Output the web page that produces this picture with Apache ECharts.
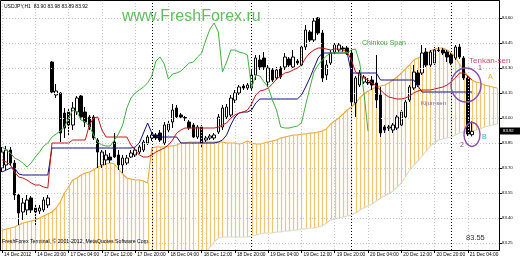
<!DOCTYPE html>
<html><head><meta charset="utf-8">
<script src="https://cdn.jsdelivr.net/npm/echarts@6/dist/echarts.min.js"></script>
<style>html,body{margin:0;padding:0;background:#fff}#c{width:520px;height:260px}</style>
</head><body><div id="c"></div>
<script>
// ---- axis texts ----
const tickLabels = ["14 Dec 2012","14 Dec 20:00","17 Dec 04:00","17 Dec 12:00","17 Dec 20:00","18 Dec 04:00","18 Dec 12:00","18 Dec 20:00","19 Dec 04:00","19 Dec 12:00","19 Dec 20:00","20 Dec 04:00","20 Dec 12:00","20 Dec 20:00","21 Dec 04:00"];
const priceTicks = [83.25,83.40,83.55,83.70,83.85,84.00,84.15,84.30,84.45,84.60];
const sessionDays = [["14 Dec",12,23],["17 Dec",0,23],["18 Dec",0,23],["19 Dec",0,23],["20 Dec",0,23],["21 Dec",0,11]];
const daySeparators = ["18 Dec 00:00","19 Dec 00:00","20 Dec 00:00","21 Dec 00:00"];
const lastClose = 83.92;

// ---- H1 candles [open, close, low, high] ----
const candles = [
[83.700,83.796,83.676,83.826],[83.718,83.808,83.688,83.832],[83.808,83.730,83.712,83.826],[83.730,83.538,83.508,83.748],
[83.538,83.430,83.358,83.550],[83.436,83.490,83.388,83.520],[83.448,83.508,83.418,83.538],[83.520,83.448,83.430,83.532],
[83.460,83.436,83.358,83.478],[83.442,83.460,83.424,83.478],[83.448,83.508,83.436,83.526],[83.478,83.520,83.460,83.538],
[84.336,84.156,84.150,84.342],[84.138,84.162,84.120,84.204],[84.150,83.910,83.856,84.156],[84.030,83.940,83.880,84.060],
[84.036,83.958,83.898,84.060],[83.958,84.060,83.928,84.096],[84.036,84.120,84.018,84.132],[84.132,84.006,83.988,84.138],
[84.036,83.976,83.946,84.066],[84.006,83.946,83.928,84.018],[84.006,83.880,83.868,84.018],[83.868,83.796,83.700,83.880],
[83.718,83.796,83.700,83.808],[83.748,83.778,83.718,83.808],[83.766,83.748,83.730,83.790],[83.856,83.766,83.760,83.910],
[83.778,83.718,83.688,83.808],[83.718,83.760,83.670,83.778],[83.730,83.760,83.718,83.778],[83.766,83.790,83.760,83.808],
[83.778,83.808,83.766,83.820],[83.796,83.826,83.784,83.838],[83.808,83.856,83.796,83.868],[83.850,83.886,83.838,83.898],
[83.880,83.898,83.862,83.916],[83.898,83.880,83.868,83.910],[83.910,83.868,83.856,83.928],[83.850,83.958,83.838,83.976],
[83.928,83.964,83.916,83.988],[83.976,84.048,83.940,84.084],[84.060,84.006,84.000,84.078],[84.018,84.006,83.994,84.030],
[84.000,84.003,83.982,84.012],[83.976,83.940,83.928,83.988],[83.958,83.886,83.880,83.970],[83.886,83.946,83.874,83.958],
[83.946,83.850,83.826,83.958],[83.868,83.880,83.856,83.892],[83.880,83.892,83.868,83.904],[83.880,83.898,83.868,83.910],
[83.916,84.006,83.904,84.024],[83.946,84.060,83.928,84.078],[84.006,84.066,83.994,84.084],[84.018,84.120,84.006,84.138],
[84.108,84.150,84.090,84.168],[84.150,84.186,84.138,84.198],[84.192,84.180,84.168,84.204],[84.180,84.198,84.168,84.210],
[84.180,84.258,84.168,84.288],[84.258,84.360,84.228,84.378],[84.348,84.306,84.288,84.378],[84.360,84.306,84.288,84.396],
[84.216,84.300,84.186,84.318],[84.288,84.228,84.216,84.300],[84.240,84.288,84.228,84.306],[84.300,84.246,84.234,84.312],
[84.306,84.366,84.288,84.390],[84.354,84.318,84.306,84.366],[84.306,84.366,84.300,84.408],[84.342,84.330,84.318,84.354],
[84.318,84.426,84.306,84.438],[84.426,84.528,84.408,84.558],[84.516,84.468,84.456,84.528],[84.468,84.582,84.456,84.600],
[84.600,84.510,84.498,84.606],[84.510,84.240,84.216,84.528],[84.258,84.318,84.228,84.348],[84.330,84.390,84.318,84.408],
[84.396,84.438,84.378,84.456],[84.408,84.438,84.396,84.450],[84.420,84.414,84.396,84.432],[84.420,84.390,84.378,84.432],
[84.390,84.096,84.078,84.408],[84.090,84.240,84.006,84.252],[84.198,84.270,84.186,84.288],[84.216,84.246,84.204,84.258],
[84.216,84.210,84.198,84.240],[84.228,84.198,84.168,84.252],[84.210,84.108,84.060,84.378],[84.138,83.910,83.886,84.186],
[83.946,83.928,83.910,83.958],[83.940,83.946,83.922,83.958],[83.928,83.958,83.910,83.970],[83.940,84.006,83.928,84.018],
[83.958,84.036,83.946,84.048],[84.006,84.096,83.994,84.108],[84.108,84.186,84.096,84.198],[84.180,84.276,84.168,84.318],
[84.270,84.198,84.186,84.288],[84.270,84.390,84.258,84.438],[84.396,84.318,84.306,84.420],[84.318,84.396,84.306,84.408],
[84.330,84.408,84.318,84.426],[84.408,84.405,84.396,84.426],[84.408,84.390,84.378,84.420],[84.396,84.366,84.336,84.408],
[84.378,84.330,84.318,84.390],[84.360,84.426,84.348,84.438],[84.426,84.366,84.354,84.444],[84.360,84.240,84.228,84.372],
[84.240,83.904,83.892,84.252],[83.90,83.92,83.89,83.98]
];

// ---- Ichimoku lines ----
const tenkan = [83.748,83.736,83.718,83.676,83.646,83.640,83.628,83.610,83.598,83.598,83.586,83.580,
83.850,83.850,83.850,83.850,83.850,83.868,83.868,83.868,83.868,83.958,84.000,84.006,83.928,
83.886,83.886,83.886,83.886,83.886,83.886,83.838,83.808,83.778,83.766,83.766,83.778,83.796,83.808,83.820,83.838,83.868,83.910,83.928,
83.940,83.940,83.940,83.940,83.940,83.940,83.940,83.940,83.946,83.958,83.970,84.000,84.018,84.030,84.036,84.048,84.084,84.138,
84.162,84.168,84.180,84.204,84.234,84.252,84.270,84.276,84.288,84.300,84.318,84.360,84.390,84.408,84.420,84.420,84.414,84.408,
84.414,84.414,84.408,84.396,84.348,84.276,84.258,84.240,84.228,84.210,84.192,84.168,84.144,84.126,84.120,84.114,84.114,84.120,
84.132,84.150,84.162,84.168,84.168,84.168,84.174,84.180,84.186,84.198,84.216,84.240,84.270,84.270,84.252,84.228];

const kijun = [83.676,83.688,83.700,83.700,83.664,83.658,83.658,83.658,83.658,83.658,83.658,83.658,
83.820,83.820,83.820,83.820,83.820,83.820,83.820,83.820,83.820,83.820,83.820,83.820,83.820,83.820,83.820,83.820,83.820,83.820,83.820,83.820,
83.826,83.850,83.910,83.970,83.910,83.892,83.886,83.886,83.886,83.886,83.886,
83.850,83.850,83.850,83.850,83.850,83.850,83.850,83.850,83.850,
83.856,83.868,83.898,83.958,84.006,84.030,84.036,84.036,84.048,84.090,
84.114,84.114,84.114,84.114,84.114,84.114,84.114,84.114,84.114,84.114,
84.138,84.186,84.240,84.300,84.360,
84.390,84.390,84.390,84.390,84.390,84.390,84.390,
84.270,84.270,84.270,84.270,84.270,84.270,84.270,
84.228,84.228,84.228,84.228,84.228,84.228,84.228,84.228,84.228,
84.192,
84.156,84.156,84.156,84.156,84.156,84.156,84.156,84.156,84.156,84.156,84.156,84.156,84.156];

const chikou = [83.826,83.808,83.790,83.760,83.748,83.730,83.706,83.730,83.766,83.796,83.832,83.850,83.886,83.904,83.922,83.946,
84.000,84.048,84.036,83.988,83.976,83.952,83.898,83.856,83.838,83.832,83.832,83.868,83.904,83.958,84.060,84.120,84.150,84.168,
84.186,84.210,84.252,84.342,84.366,84.324,84.234,84.264,84.270,84.282,84.306,84.330,84.336,84.366,84.390,84.468,84.534,84.570,
84.516,84.276,84.336,84.408,84.408,84.396,84.390,84.378,84.180,84.258,84.252,84.216,84.186,84.108,84.048,83.946,83.940,83.940,
83.946,83.952,83.970,84.078,84.180,84.276,84.318,84.348,84.372,84.390,84.390,84.396,84.396,84.390,84.408,84.414,84.330,84.156,83.922];

const spanA = [83.328,83.334,83.340,83.346,83.358,83.370,83.376,83.382,83.388,83.400,83.412,83.424,83.436,83.460,83.496,83.550,
83.586,83.628,83.640,83.658,83.670,83.676,83.688,83.706,83.712,83.724,83.730,83.724,83.694,83.664,83.640,83.634,83.628,83.628,
83.622,83.610,83.820,83.826,83.826,83.826,83.832,83.832,83.838,83.850,83.850,83.856,83.856,83.856,83.856,83.856,83.856,83.856,
83.856,83.856,83.850,83.850,83.850,83.844,83.850,83.862,83.850,83.844,83.844,83.850,83.856,83.862,83.868,83.880,83.886,83.892,
83.898,83.898,83.904,83.904,83.910,83.910,83.916,83.922,83.934,83.964,83.982,84.000,84.024,84.048,84.066,84.090,84.120,84.144,
84.162,84.174,84.186,84.192,84.198,84.210,84.228,84.246,84.270,84.294,84.318,84.348,84.360,84.372,84.384,84.402,84.414,84.420,
84.420,84.408,84.390,84.366,84.324,84.288,84.252,84.228,84.216,84.210,84.198,84.192,84.186,84.180];

const spanB = [83.15,83.15,83.15,83.15,83.15,83.15,83.15,83.15,83.15,83.15,83.15,83.15,83.15,83.15,83.15,83.15,83.15,83.15,
83.15,83.15,83.15,83.15,83.15,83.15,83.15,83.15,83.15,83.15,83.15,83.15,83.15,83.15,83.15,83.15,83.15,83.15,83.15,83.15,
83.15,83.15,83.15,83.15,83.15,83.15,83.15,83.15,83.15,83.15,83.15,
83.196,83.226,83.256,83.280,83.286,83.286,83.286,83.286,83.286,83.286,83.286,
83.292,83.298,83.304,83.310,83.310,83.310,83.316,83.316,83.322,83.322,83.328,83.328,83.334,83.334,83.340,83.340,83.346,83.352,
83.370,83.388,83.394,83.400,83.406,83.412,83.418,83.430,83.448,83.460,83.472,83.484,83.502,83.520,83.532,83.544,83.562,83.586,
83.610,83.646,83.688,83.718,83.742,83.772,83.802,83.832,83.850,83.868,83.874,83.880,83.886,83.898,83.910,83.916,83.922,83.922,
83.928,83.934,83.946,83.952,83.958,83.964];

// ---- build categories ----
const categories = [];
sessionDays.forEach(([d, h0, h1]) => { for (let h = h0; h <= h1; h++) categories.push(d + " " + String(h).padStart(2, "0") + ":00"); });
const gridTimes = categories.filter((c, i) => i % 8 === 0);

const FONT = 'Liberation Sans, Arial, sans-serif';
const chart = echarts.init(document.getElementById('c'), null, {renderer: 'canvas', width: 520, height: 260});

const option = {
  animation: false,
  backgroundColor: '#fff',
  grid: {left: -1, right: 21, top: 1, bottom: 10},
  xAxis: {
    type: 'category', data: categories, boundaryGap: true,
    axisLine: {show: true, lineStyle: {color: '#000', width: 1}},
    axisTick: {show: true, interval: (i) => i % 8 === 0, alignWithLabel: true, length: 3, lineStyle: {color: '#000'}},
    axisLabel: {show: true, interval: (i) => i % 8 === 0, formatter: (v, i) => tickLabels[i / 8] || '',
      align: 'left', fontSize: 4.8, fontFamily: FONT, color: '#000', margin: 2, padding: [0, 0, 0, 2]},
    splitLine: {show: false}
  },
  yAxis: {
    type: 'value', position: 'right', min: 83.208, max: 84.702,
    axisLine: {show: true, lineStyle: {color: '#000'}},
    axisTick: {show: true, customValues: priceTicks, length: 3, lineStyle: {color: '#000'}},
    axisLabel: {show: true, customValues: priceTicks, formatter: v => v.toFixed(2), fontSize: 4.3, fontFamily: FONT, color: '#000', margin: 3},
    splitLine: {show: false}
  },
  series: [
    { // grid
      type: 'line', data: [], z: 0, silent: true,
      markLine: {silent: true, symbol: 'none', label: {show: false}, animation: false,
        lineStyle: {color: '#c8c8c8', type: [1, 2], width: 1},
        data: priceTicks.map(v => ({yAxis: v})).concat(gridTimes.map(c => ({xAxis: c})))}
    },
    { // cloud hatch
      type: 'custom', z: 1, silent: true,
      data: spanA.map((a, i) => [i, a, spanB[i]]),
      encode: {x: 0, y: [1, 2]},
      renderItem: function (params, api) {
        const i = api.value(0);
        const pa = api.coord([i, api.value(1)]);
        const pb = api.coord([i, api.value(2)]);
        const cs = params.coordSys;
        const y1 = Math.max(cs.y, Math.min(pa[1], pb[1]));
        const y2 = Math.min(cs.y + cs.height, Math.max(pa[1], pb[1]));
        const x = Math.round(pa[0]) + 0.5;
        return {type: 'line', shape: {x1: x, y1: y1, x2: x, y2: y2}, style: {stroke: '#f5c472', lineWidth: 1.2}};
      }
    },
    {type: 'line', name: 'Senkou Span A', data: spanA, symbol: 'none', z: 2, silent: true, lineStyle: {color: '#f0a838', width: 1.1}},
    {type: 'line', name: 'Senkou Span B', data: spanB, symbol: 'none', z: 2, silent: true, lineStyle: {color: '#d8dcc8', width: 1.1}},
    { // day separators
      type: 'line', data: [], z: 3, silent: true,
      markLine: {silent: true, symbol: 'none', label: {show: false}, animation: false,
        lineStyle: {color: '#000', type: [1, 2], width: 1},
        data: daySeparators.map(c => ({xAxis: c}))}
    },
    {type: 'candlestick', data: candles, barWidth: 3, z: 4, silent: true,
      itemStyle: {color: '#fff', color0: '#000', borderColor: '#000', borderColor0: '#000', borderWidth: 1}},
    {type: 'line', name: 'Kijun-sen', data: kijun, symbol: 'none', z: 5, silent: true, lineStyle: {color: '#101080', width: 1}},
    {type: 'line', name: 'Tenkan-sen', data: tenkan, symbol: 'none', z: 5, silent: true, lineStyle: {color: '#c81818', width: 1}},
    {type: 'line', name: 'Chinkou Span', data: chikou, symbol: 'none', z: 5, silent: true, lineStyle: {color: '#44b044', width: 1}}
  ]
};
chart.setOption(option);

const py = chart.convertToPixel({yAxisIndex: 0}, lastClose);
const T = (text, x, y, size, color) => ({type: 'text', x: x, y: y, z: 100, silent: true,
  style: {text: text, fill: color, font: size + 'px ' + FONT, align: 'left', verticalAlign: 'top'}});
chart.setOption({
  graphic: [
    {type: 'rect', z: 90, silent: true, shape: {x: 0.5, y: 0.5, width: 499, height: 250}, style: {fill: 'none', stroke: '#000', lineWidth: 1}},
    T('USDJPY,H1  83.90 83.98 83.89 83.92', 4, 4, 5, '#000'),
    T('www.FreshForex.ru', 122, 9, 16, '#5fbf5f'),
    T('Chinkou Span', 362, 40, 7, '#3ca83c'),
    T('Tenkan-sen', 469, 57, 8, '#d0506a'),
    T('1', 478, 65, 7, '#8a4fae'),
    T('A', 488, 74, 7, '#f0a040'),
    T('Kijun-sen', 421, 100, 6, '#7060a8'),
    T('B', 482, 134, 7, '#40a8d0'),
    T('2', 460, 142, 7, '#8a4fae'),
    T('83.55', 466, 234, 7.5, '#333'),
    T('FreshForex Terminal, \u00a9 2001-2012, MetaQuotes Software Corp.', 2, 239, 5.2, '#000'),
    {type: 'ellipse', z: 95, silent: true, shape: {cx: 466, cy: 85, rx: 15, ry: 17}, style: {fill: 'none', stroke: '#8a4fae', lineWidth: 1.4}},
    {type: 'ellipse', z: 95, silent: true, shape: {cx: 472, cy: 134.5, rx: 8, ry: 12}, style: {fill: 'none', stroke: '#8a4fae', lineWidth: 1.4}},
    {type: 'rect', z: 96, silent: true, shape: {x: 500, y: Math.round(py) - 3.5, width: 20, height: 7}, style: {fill: '#000'}},
    T(lastClose.toFixed(2), 503, Math.round(py) - 2.5, 4.3, '#fff')
  ]
});
</script></body></html>
